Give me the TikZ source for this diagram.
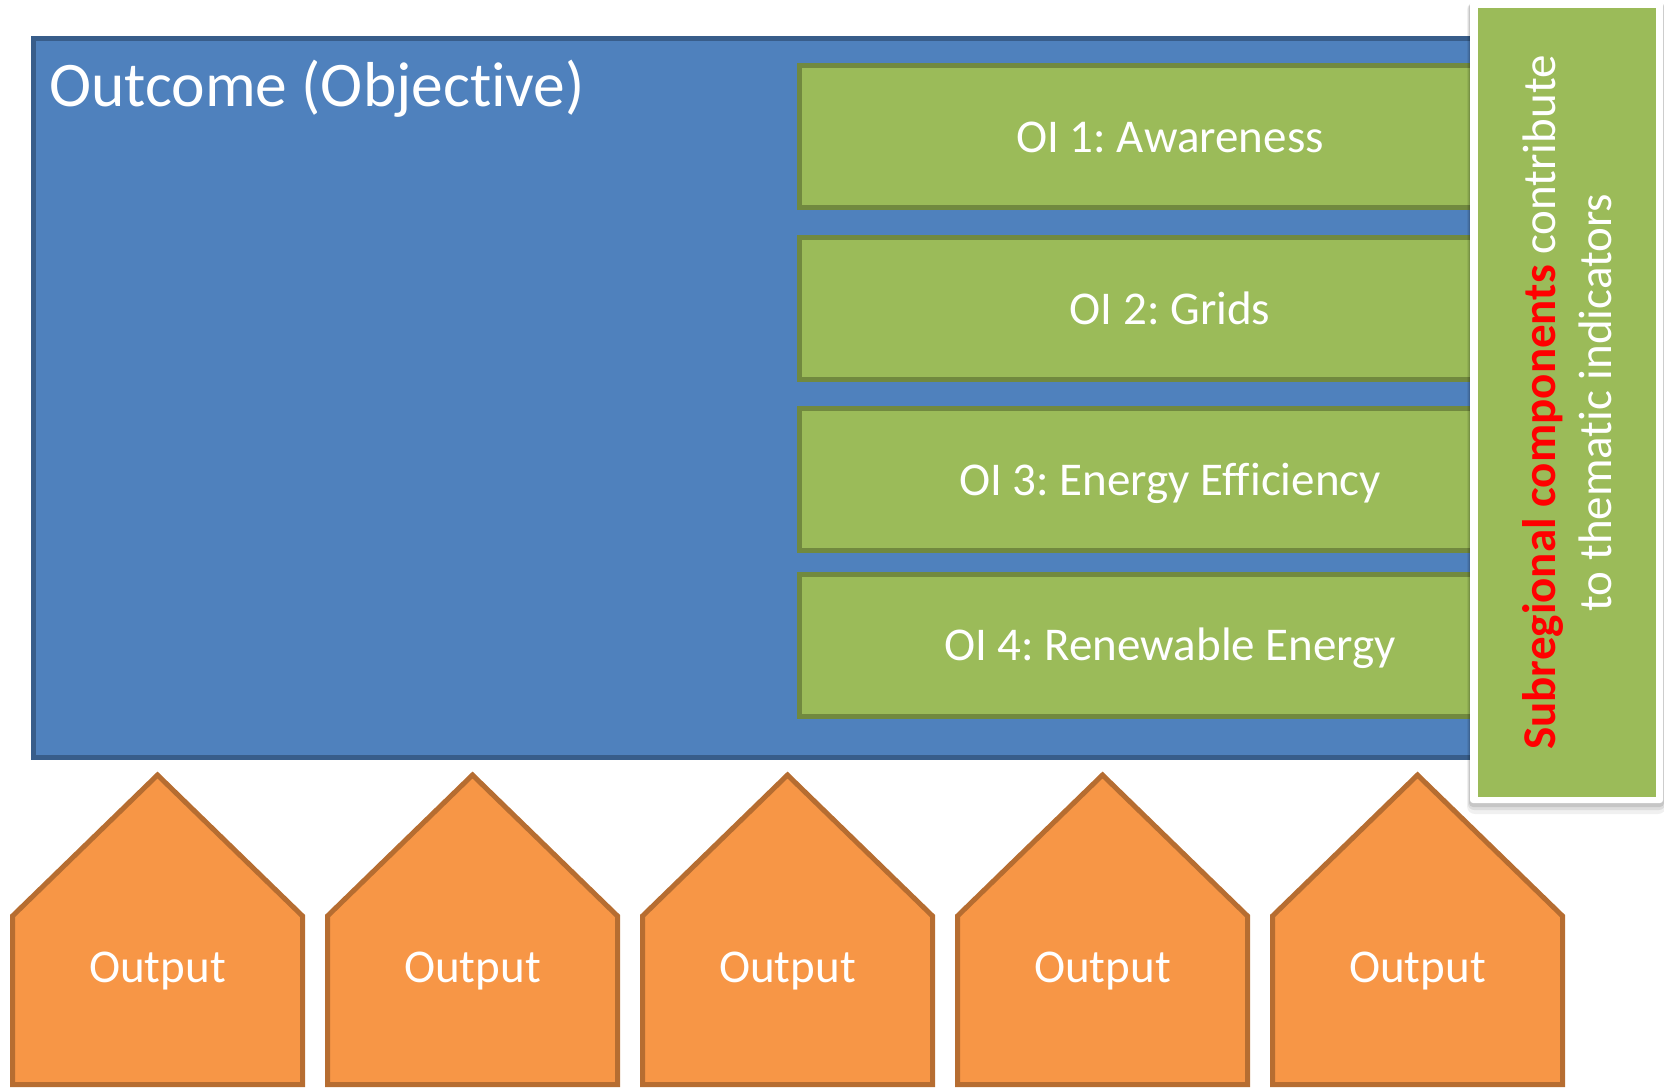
\documentclass[tikz,border=0pt]{standalone}
\usepackage{fontspec}
\setmainfont{Carlito}[Ligatures=NoCommon]
\frenchspacing
\definecolor{blueF}{HTML}{4F81BD}
\definecolor{blueD}{HTML}{385D8A}
\definecolor{greenF}{HTML}{9BBB59}
\definecolor{greenD}{HTML}{71893F}
\definecolor{orangeF}{HTML}{F79646}
\definecolor{orangeD}{HTML}{B66D31}
\definecolor{redT}{HTML}{FF0000}
\begin{document}
\begin{tikzpicture}[x=0.5pt,y=-0.5pt,
  outcomebox/.style={draw=blueD, fill=blueF, line width=2.5pt, anchor=north west, inner sep=0},
  oibox/.style={draw=greenD, fill=greenF, line width=2.5pt, minimum width=370.5pt, minimum height=71pt, inner sep=0, text=white, text height=15.5pt, text depth=0pt, font=\fontsize{23.5}{28}\selectfont},
  outputshape/.style={draw=orangeD, fill=orangeF, line width=2.5pt, line join=miter},
  lbl/.style={text=white, inner sep=0, font=\fontsize{23.5}{28}\selectfont},
  bigLbl/.style={text=white, inner sep=0, font=\fontsize{31.75}{38}\selectfont},
  panel/.style={fill=white, rounded corners=1.5pt},
  panelgreen/.style={fill=greenF, draw=none}]
\useasboundingbox (0,0) rectangle (1664,1087);

% Outcome box
\node[outcomebox, minimum width=755.25pt, minimum height=359.5pt] (outcome) at (30.5,35.5) {};
\node[bigLbl, anchor=base west] (outcomelbl) at (49,106) {Outcome (Objective)};

% OI boxes
\node[oibox] (oi1) at (1170,136.5) {OI 1: Awareness};
\node[oibox] (oi2) at (1170,308.5) {OI 2: Grids};
\node[oibox] (oi3) at (1170,479.5) {OI 3: Energy Efficiency};
\node[oibox] (oi4) at (1170,645) {OI 4: Renewable Energy};

% side panel with soft shadow
\fill[black, opacity=0.06, rounded corners=4pt] (1467,2) rectangle (1666,814);
\fill[black, opacity=0.08, rounded corners=3pt] (1468,3) rectangle (1665,810);
\fill[black, opacity=0.10, rounded corners=2pt] (1469,3) rectangle (1664,807);
\path[panel] (1470,1) rectangle (1663,803);
\path[panelgreen] (1478,8) rectangle (1656,797);
\coordinate (panelc) at (1567,402.5);
\node[lbl, rotate=90, align=center, inner sep=0] (sidetxt) at (panelc)
  {\textcolor{redT}{\bfseries Subregional components} contribute\\to thematic indicators};

% Outputs
\foreach \i in {0,...,4}{
  \pgfmathsetmacro{\cx}{157.5+315*\i}
  \draw[outputshape] (\cx-145,1084.5) -- (\cx-145,916) -- (\cx,775) -- (\cx+145,916) -- (\cx+145,1084.5) -- cycle;
  \node[lbl, anchor=base] (out\i) at (\cx,982) {Output};
}
\end{tikzpicture}
\end{document}
